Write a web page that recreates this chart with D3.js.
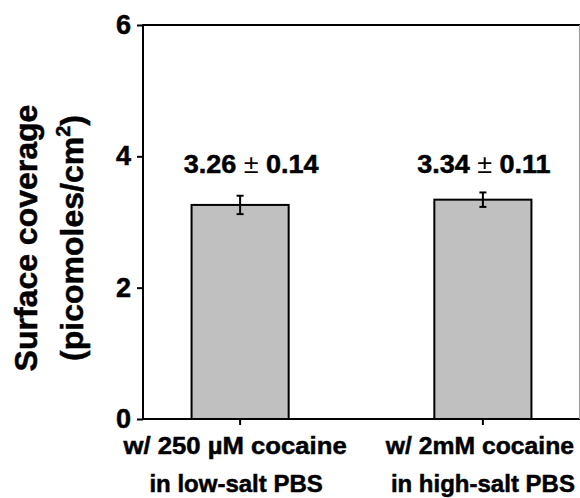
<!DOCTYPE html>
<html>
<head>
<meta charset="utf-8">
<script src="https://cdn.jsdelivr.net/npm/d3@7"></script>
<style>
  html, body { margin: 0; padding: 0; background: #fff; }
  svg { display: block; }
  text { font-family: "Liberation Sans", Arial, Helvetica, sans-serif; font-weight: bold; fill: #000;
         stroke: #000; stroke-width: 0.5px; }
</style>
</head>
<body>
<svg id="chart" width="580" height="498"></svg>
<script>
// ---- data ----
const categories = ["cat250uM", "cat2mM"];
const labelLine1 = ["w/ 250 µM cocaine", "w/ 2mM cocaine"];
const labelLine2 = ["in low-salt PBS", "in high-salt PBS"];
const means = [3.26, 3.34];
const errors = [0.14, 0.11];
const yTicks = [0, 2, 4, 6];
const yTitle1 = "Surface coverage";
const yTitle2 = "(picomoles/cm";
const yTitle2Sup = "2";
const yTitle2End = ")";

// ---- layout ----
const svg = d3.select("#chart");
const mLeft = 143, mRight = 580, mTop = 25, mBottom = 419;
const hStretch = 1.08;

const x = d3.scaleBand().domain(categories).range([mLeft, mRight])
  .paddingInner(0.6).paddingOuter(0.2);
const y = d3.scaleLinear().domain([0, 6]).range([mBottom, mTop]);

// bars
svg.append("g").selectAll("rect").data(categories).join("rect")
  .attr("x", d => x(d))
  .attr("y", (d, i) => y(means[i]))
  .attr("width", x.bandwidth())
  .attr("height", (d, i) => y(0) - y(means[i]))
  .attr("fill", "#c0c0c0")
  .attr("stroke", "#000")
  .attr("stroke-width", 2);

// error bars
const eb = svg.append("g").attr("stroke", "#000").attr("stroke-width", 2);
categories.forEach((c, i) => {
  const cx = x(c) + x.bandwidth() / 2;
  eb.append("line").attr("x1", cx).attr("x2", cx)
    .attr("y1", y(means[i] + errors[i])).attr("y2", y(means[i] - errors[i]));
  [means[i] + errors[i], means[i] - errors[i]].forEach(v => {
    eb.append("line").attr("x1", cx - 3.5).attr("x2", cx + 3.5)
      .attr("y1", y(v)).attr("y2", y(v));
  });
});

// value labels
const vl = svg.append("g");
categories.forEach((c, i) => {
  const g = vl.append("g").attr("transform",
    `translate(${x(c) + x.bandwidth() / 2 + (i === 0 ? 11 : 1)},${y(3.75)}) scale(${hStretch},1)`);
  const t = g.append("text").attr("text-anchor", "middle").attr("font-size", 25);
  t.append("tspan").text(means[i].toFixed(2) + " ");
  t.append("tspan").attr("font-weight", "normal").style("stroke-width", "0px").text("±");
  t.append("tspan").text(" " + errors[i].toFixed(2));
});

// y axis
const yAxis = svg.append("g").attr("transform", `translate(${mLeft},0)`)
  .call(d3.axisLeft(y).tickValues(yTicks).tickFormat(d3.format("d"))
    .tickSize(6).tickPadding(6));
yAxis.select(".domain").remove();
yAxis.selectAll(".tick line").attr("stroke", "#000").attr("stroke-width", 2);
yAxis.selectAll(".tick text").attr("font-size", 27)
  .attr("font-family", "'Liberation Sans', Arial, sans-serif").attr("font-weight", "bold");

// x axis ticks
const xAxis = svg.append("g").attr("transform", `translate(0,${mBottom})`)
  .call(d3.axisBottom(x).tickSize(6).tickFormat(""));
xAxis.select(".domain").remove();
xAxis.selectAll(".tick line").attr("stroke", "#000").attr("stroke-width", 2);

// frame lines
const frame = svg.append("g").attr("stroke", "#000").attr("stroke-width", 2);
frame.append("line").attr("x1", mLeft).attr("x2", mRight).attr("y1", mTop).attr("y2", mTop);
frame.append("line").attr("x1", mLeft - 1).attr("x2", mRight).attr("y1", mBottom).attr("y2", mBottom);
frame.append("line").attr("x1", mLeft).attr("x2", mLeft).attr("y1", mTop - 1).attr("y2", mBottom + 1);
svg.append("line").attr("x1", mRight - 0.5).attr("x2", mRight - 0.5)
  .attr("y1", mTop).attr("y2", mBottom).attr("stroke", "#999").attr("stroke-width", 1);

// x category labels
const xl = svg.append("g");
categories.forEach((c, i) => {
  const cx = x(c) + x.bandwidth() / 2;
  xl.append("g").attr("transform", `translate(${cx - (i === 0 ? 5 : 3)},${mBottom + 35}) scale(${i === 0 ? 1.07 : 1.03},1)`)
    .append("text").attr("text-anchor", "middle").attr("font-size", 24).text(labelLine1[i]);
  xl.append("text").attr("x", cx - (i === 0 ? 4 : 0)).attr("y", mBottom + 73)
    .attr("text-anchor", "middle").attr("font-size", 24).text(labelLine2[i]);
});

// y title
const ty = svg.append("g").attr("transform", `translate(0,${238}) rotate(-90)`);
ty.append("text").attr("x", 0).attr("y", 37).attr("text-anchor", "middle")
  .attr("font-size", 32).text(yTitle1);
const t2 = ty.append("text").attr("x", 0).attr("y", 83).attr("text-anchor", "middle")
  .attr("font-size", 32);
t2.append("tspan").text(yTitle2);
t2.append("tspan").attr("font-size", 20).attr("dy", -13).text(yTitle2Sup);
t2.append("tspan").attr("dy", 13).text(yTitle2End);
</script>
</body>
</html>
